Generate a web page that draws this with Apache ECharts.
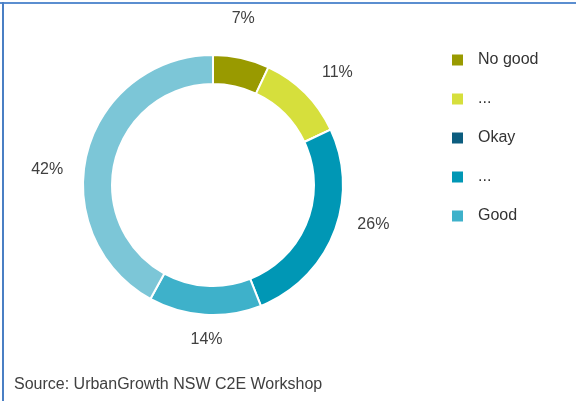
<!DOCTYPE html>
<html>
<head>
<meta charset="utf-8">
<script src="https://cdn.jsdelivr.net/npm/echarts@6/dist/echarts.min.js"></script>
<style>
  html, body { margin: 0; padding: 0; background: #ffffff; }
  #chart { width: 576px; height: 401px; }
</style>
</head>
<body>
<div id="chart"></div>
<script>
// Survey ratings, clockwise from 12 o'clock
const categories = ['No good', '...', 'Okay', '... ', 'Good', 'Unrated'];
const shares = [7, 11, 0, 26, 14, 42];
const colors = ['#999a00', '#d6df3c', '#0c5d7f', '#0097b5', '#3eb1ca', '#7cc6d7'];
const legendNames = ['No good', '...', 'Okay', '... ', 'Good'];
const sourceNote = 'Source: UrbanGrowth NSW C2E Workshop';

// Ring geometry and label placement
const center = [213, 185];
const ring = [101, 130];
const labelRadius = 166;
const labelNudge = [[-6, -4], [7, 5], [0, 0], [6, -22], [4, -11], [-5, 26]];

const total = shares.reduce((a, b) => a + b, 0);
const midAngles = [];
let acc = 0;
shares.forEach(v => { midAngles.push(((acc + v / 2) / total) * 2 * Math.PI); acc += v; });

const chart = echarts.init(document.getElementById('chart'), null, { renderer: 'canvas' });

const pieData = categories.map((name, i) => ({
  name: name,
  value: shares[i],
  itemStyle: { color: colors[i] },
  label: { show: shares[i] > 0 }
}));

chart.setOption({
  animation: false,
  backgroundColor: '#ffffff',
  legend: {
    data: legendNames,
    orient: 'vertical',
    left: 445,
    top: 47,
    itemWidth: 13,
    itemHeight: 13,
    itemGap: 23,
    icon: 'rect',
    textStyle: { fontFamily: 'Liberation Sans', fontSize: 16, color: '#333333', padding: [0, 0, 0, 9] }
  },
  series: [{
    type: 'pie',
    center: center,
    radius: ring,
    startAngle: 90,
    clockwise: true,
    avoidLabelOverlap: false,
    itemStyle: { borderColor: '#ffffff', borderWidth: 2 },
    label: {
      position: 'outside',
      formatter: '{c}%',
      fontFamily: 'Liberation Sans',
      fontSize: 16,
      color: '#404040'
    },
    labelLine: { show: false },
    labelLayout: function (p) {
      const i = p.dataIndex;
      const a = midAngles[i];
      return {
        x: center[0] + labelRadius * Math.sin(a) + labelNudge[i][0],
        y: center[1] - labelRadius * Math.cos(a) + labelNudge[i][1],
        align: 'center',
        verticalAlign: 'middle'
      };
    },
    emphasis: { disabled: true },
    data: pieData
  }],
  graphic: [
    { type: 'rect', shape: { x: 0, y: 2, width: 576, height: 2 }, style: { fill: '#5b8ed0' } },
    { type: 'rect', shape: { x: 2, y: 2, width: 2, height: 399 }, style: { fill: '#4a7fc4' } },
    {
      type: 'text', left: 14, top: 377,
      style: { text: sourceNote, font: '16px "Liberation Sans"', fill: '#404040' }
    }
  ]
});
</script>
</body>
</html>
